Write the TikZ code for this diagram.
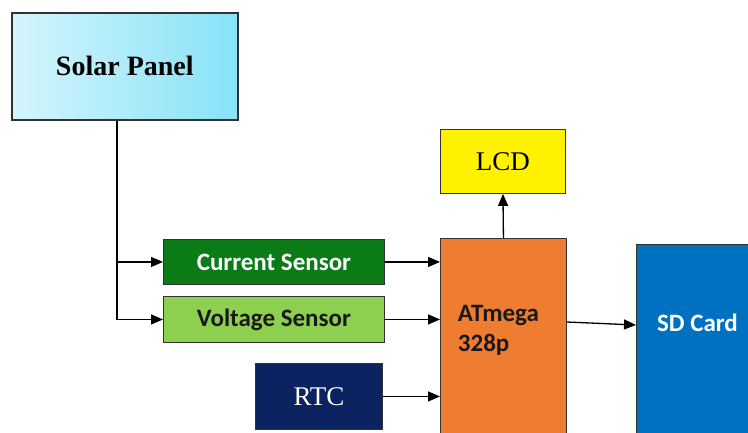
\documentclass[tikz,border=0pt]{standalone}
\usepackage{fontspec}
\setmainfont{Liberation Serif}
\newfontfamily\calibri{Carlito}
\usetikzlibrary{arrows.meta,positioning,calc}
\definecolor{skylight}{HTML}{D4F5FC}
\definecolor{skydeep}{HTML}{88E2F7}
\definecolor{darkgreen}{HTML}{0A7B17}
\definecolor{lightgreen}{HTML}{8DCF4E}
\definecolor{navy}{HTML}{0B2361}
\definecolor{orange}{HTML}{EE7D31}
\definecolor{sdblue}{HTML}{0070C0}
\tikzset{
  block/.style={draw=black!80,line width=0.9pt,anchor=north west,inner sep=0pt},
  serifbox/.style={block,font=\fontsize{27}{30}\selectfont},
  sansbox/.style={block,font=\calibri\bfseries\fontsize{25}{30}\selectfont},
  wire/.style={line width=1.3pt},
  arr/.style={wire,-{Triangle[length=12pt,width=10pt]}}
}
\begin{document}
\begin{tikzpicture}[x=1pt,y=-1pt]
        \clip (0,0) rectangle (748,432);
        \fill[white] (0,0) rectangle (748,432);
        \node[serifbox,line width=1.6pt,left color=skylight,right color=skydeep,minimum width=226pt,minimum height=107pt,font=\bfseries\fontsize{28}{30}\selectfont] (solar) at (11,12) {Solar Panel};
        \node[sansbox,fill=darkgreen,text=white,minimum width=221pt,minimum height=45pt] (cur) at (163,239) {Current Sensor};
        \node[sansbox,fill=lightgreen,text=black!90,minimum width=221pt,minimum height=46pt] (volt) at (163,296) {Voltage Sensor};
        \node[serifbox,fill=navy,text=white,minimum width=127pt,minimum height=66pt] (rtc) at (255,363) {RTC};
        \node[sansbox,fill=orange,text=black!90,minimum width=126pt,minimum height=204pt,
              label={[font=\calibri\bfseries\fontsize{25}{30}\selectfont,text=black!90,align=left,yshift=10pt,xshift=-5pt]center:ATmega\\328p}] (mcu) at (440,238) {};
        \node[serifbox,fill=yellow,minimum width=125pt,minimum height=64pt] (lcd) at (440,129) {LCD};
        \node[sansbox,fill=sdblue,text=white,minimum width=122pt,minimum height=200pt,
              label={[font=\calibri\bfseries\fontsize{25}{30}\selectfont,text=white,yshift=22pt]center:SD Card}] (sd) at (636,244) {};
        % solar panel feeds both sensors
        \coordinate (tap) at ($(solar.south west)+(106,0)$);
        \draw[arr] (tap) |- (volt.west);
        \draw[arr] (tap |- cur.west) -- (cur.west);
        % inputs to the controller
        \draw[arr] (cur.east) -- (cur.east -| mcu.west);
        \draw[arr] (volt.east) -- (volt.east -| mcu.west);
        \draw[arr] (rtc.east) -- (rtc.east -| mcu.west);
        % outputs
        \draw[arr] (mcu.north) -- (lcd.south);
        \draw[arr] ($(mcu.north east)+(0,84)$) -- ($(sd.north west)+(0,81)$);
      \end{tikzpicture}
\end{document}
